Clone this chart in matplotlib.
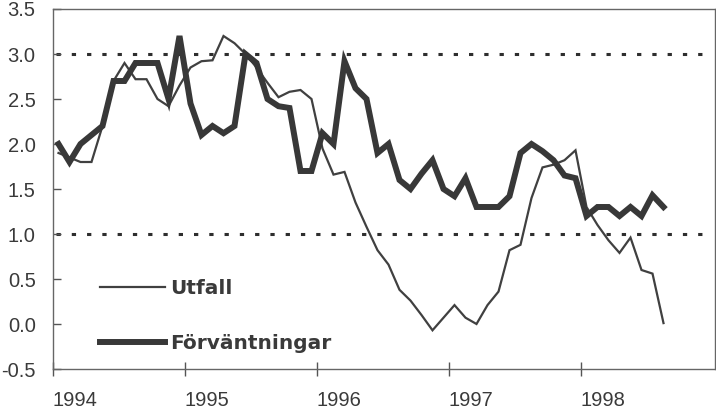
import matplotlib
matplotlib.use("Agg")
import matplotlib.pyplot as plt
from matplotlib import font_manager as fm
import numpy as np

# Monthly series, Jan 1994 - Aug 1998
START_YEAR = 1994
utfall = [
    1.90, 1.85, 1.80, 1.80, 2.20, 2.70, 2.90, 2.72, 2.72, 2.50, 2.42, 2.65,
    2.85, 2.92, 2.93, 3.20, 3.12, 3.00, 2.85, 2.68, 2.52, 2.58, 2.60, 2.50,
    1.95, 1.66, 1.69, 1.35, 1.08, 0.82, 0.66, 0.38, 0.26, 0.10, -0.07, 0.07,
    0.21, 0.07, 0.00, 0.21, 0.36, 0.82, 0.88, 1.40, 1.74, 1.77, 1.82, 1.93,
    1.30, 1.10, 0.93, 0.79, 0.96, 0.60, 0.56, 0.01,
]
forvantningar = [
    2.00, 1.80, 2.00, 2.10, 2.20, 2.70, 2.70, 2.90, 2.90, 2.90, 2.50, 3.20,
    2.45, 2.10, 2.20, 2.12, 2.20, 3.00, 2.90, 2.50, 2.42, 2.40, 1.70, 1.70,
    2.12, 2.00, 2.92, 2.62, 2.50, 1.90, 2.00, 1.60, 1.50, 1.67, 1.82, 1.50,
    1.42, 1.62, 1.30, 1.30, 1.30, 1.42, 1.90, 2.00, 1.92, 1.82, 1.65, 1.62,
    1.20, 1.30, 1.30, 1.20, 1.30, 1.20, 1.43, 1.30,
]
ref_levels = [1.0, 3.0]
year_ticks = [1994, 1995, 1996, 1997, 1998]
y_ticks = [-0.5, 0.0, 0.5, 1.0, 1.5, 2.0, 2.5, 3.0, 3.5]
labels = ["Utfall", "Förväntningar"]

INK = "#3a3a3a"

# narrow face for the numbers if one is installed
installed = {f.name for f in fm.fontManager.ttflist}
if "Liberation Sans Narrow" in installed:
    num_font = fm.FontProperties(family="Liberation Sans Narrow", size=16.5)
else:
    num_font = fm.FontProperties(family="Liberation Sans", size=14.5)

W, H = 716, 411
fig = plt.figure(figsize=(W / 100, H / 100), dpi=100)
ax = fig.add_axes([53 / W, 1 - 369 / H, (715 - 53) / W, (369 - 9) / H])

months = np.arange(len(utfall))
x = START_YEAR + (months + 0.5) / 12

for lvl in ref_levels:
    ax.axhline(lvl, xmin=0.004, xmax=0.98, color="#2e2e2e", lw=2.2,
               linestyle=(0, (1.4, 3.6)), dash_capstyle="butt", zorder=1)

h_utf, = ax.plot(x, utfall, color="#404040", lw=1.6, solid_joinstyle="miter", zorder=3)
h_frv, = ax.plot(x, forvantningar, color="#383838", lw=4.3, solid_joinstyle="miter", zorder=4)

ax.set_xlim(START_YEAR, START_YEAR + (715 - 53) / 132)
ax.set_ylim(-0.5, 3.5)
ax.set_xticks(year_ticks)
ax.set_yticks(y_ticks)
# plain hyphen for the minus sign, as in the original
ax.set_yticklabels([f"{v:.1f}" for v in y_ticks], fontproperties=num_font)
ax.set_xticklabels([str(y) for y in year_ticks], ha="left", fontproperties=num_font)

ax.tick_params(axis="y", direction="in", length=6, width=1, color="#555555",
               pad=12.5, labelcolor=INK)
ax.tick_params(axis="x", direction="inout", length=10, width=1, color="#555555",
               pad=11, labelcolor=INK)

for sp in ax.spines.values():
    sp.set_color("#666666")
    sp.set_linewidth(1.0)

leg = ax.legend([h_utf, h_frv], labels, loc="upper left",
                bbox_to_anchor=(0.071, 0.251), frameon=False,
                handlelength=3.25, handletextpad=0.25, labelspacing=1.8,
                borderpad=0, borderaxespad=0,
                prop={"family": "DejaVu Sans", "weight": "bold", "size": 14.5})
for t in leg.get_texts():
    t.set_color(INK)

fig.savefig("out.png", dpi=100)
